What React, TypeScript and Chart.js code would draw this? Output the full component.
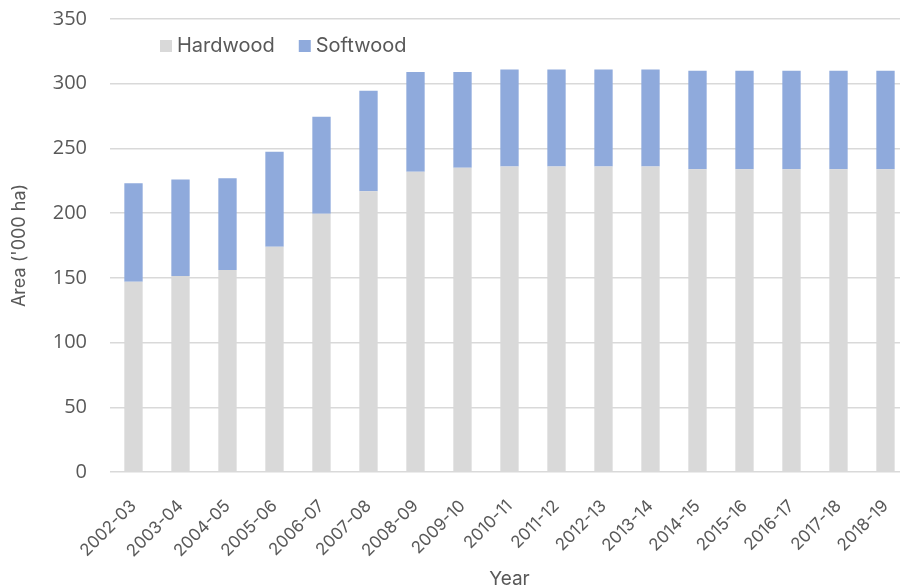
import React, { useEffect, useRef } from "react";
import { Chart, registerables } from "chart.js";

Chart.register(...registerables);

const categories = [
  "2002-03", "2003-04", "2004-05", "2005-06", "2006-07", "2007-08", "2008-09", "2009-10",
  "2010-11", "2011-12", "2012-13", "2013-14", "2014-15", "2015-16", "2016-17", "2017-18", "2018-19",
];
const hardwood = [147, 151.5, 156, 174, 199.5, 217, 232, 235, 236, 236, 236, 236, 234, 234, 234, 234, 234];
const softwood = [76, 74.5, 71, 73.5, 75, 77.5, 77, 74, 75, 75, 75, 75, 76, 76, 76, 76, 76];
const yTicks = [0, 50, 100, 150, 200, 250, 300, 350];

const TEXT = "#595959";
const GEO = "Inter, Lato, sans-serif";

const legendPlugin = {
  id: "insideLegend",
  afterDraw(chart: any) {
    const ctx = chart.ctx;
    const area = chart.chartArea;
    ctx.save();
    ctx.font = `20px ${GEO}`;
    ctx.textBaseline = "middle";
    ctx.textAlign = "left";
    let x = area.left + 50;
    const y = area.top + 27;
    chart.data.datasets.forEach((ds: any) => {
      ctx.fillStyle = ds.backgroundColor;
      ctx.fillRect(x, y - 6, 12, 12);
      ctx.fillStyle = TEXT;
      ctx.fillText(ds.label, x + 17, y);
      x += 17 + ctx.measureText(ds.label).width + 24;
    });
    ctx.restore();
  },
};

export default function App() {
  const ref = useRef<HTMLCanvasElement | null>(null);
  useEffect(() => {
    if (!ref.current) return;
    const chart = new Chart(ref.current, {
      type: "bar",
      data: {
        labels: categories,
        datasets: [
          { label: "Hardwood", data: hardwood, backgroundColor: "#D9D9D9", stack: "s" },
          { label: "Softwood", data: softwood, backgroundColor: "#8FAADC", stack: "s" },
        ],
      },
      options: {
        responsive: false,
        animation: false,
        layout: { padding: { top: 19, left: 0, right: 3, bottom: 0 } },
        datasets: { bar: { categoryPercentage: 1, barPercentage: 0.39 } },
        plugins: { legend: { display: false }, tooltip: { enabled: false } },
        scales: {
          x: {
            stacked: true,
            grid: { display: false },
            border: { display: false },
            ticks: {
              color: TEXT,
              font: { family: GEO, size: 17 },
              minRotation: 45,
              maxRotation: 45,
              padding: 16,
            },
            title: {
              display: true,
              text: "Year",
              color: TEXT,
              font: { family: GEO, size: 19 },
              padding: { top: 0, bottom: -3 },
            },
            afterFit: (s: any) => {
              s.height = 116;
              s.paddingLeft = 0;
              s.paddingRight = 0;
            },
          },
          y: {
            stacked: true,
            min: 0,
            max: 350,
            afterBuildTicks: (s: any) => { s.ticks = yTicks.map((v) => ({ value: v })); },
            grid: { color: "#D9D9D9", lineWidth: 1.5, drawTicks: false },
            border: { display: false },
            ticks: {
              color: TEXT,
              font: { family: "'Open Sans', sans-serif", size: 20 },
              padding: 23,
            },
            title: {
              display: true,
              text: "Area ('000 ha)",
              color: TEXT,
              font: { family: GEO, size: 18 },
              padding: { top: 9, bottom: 0 },
            },
            afterFit: (s: any) => {
              s.width = 110;
              s.paddingTop = 0;
              s.paddingBottom = 0;
            },
          },
        },
      },
      plugins: [legendPlugin],
    });
    return () => chart.destroy();
  }, []);
  return (
    <div style={{ position: "fixed", left: 0, top: 0, width: 900, height: 588, overflow: "hidden", background: "#fff" }}>
      <canvas ref={ref} width={912} height={588} style={{ width: 912, height: 588, display: "block" }} />
    </div>
  );
}
